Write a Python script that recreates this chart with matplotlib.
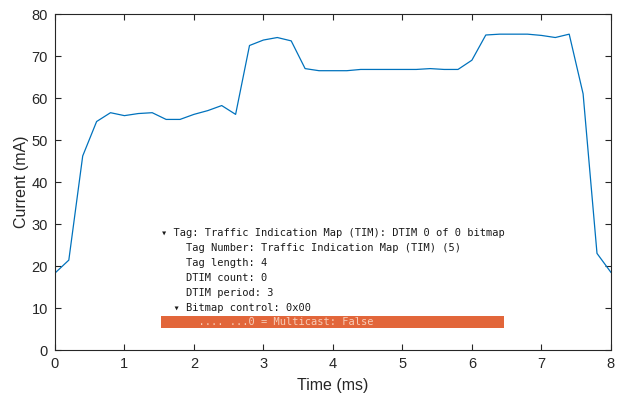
import matplotlib
matplotlib.use("Agg")
import matplotlib.pyplot as plt
from matplotlib.patches import Rectangle

# supply current sampled every 0.2 ms
time_ms = [0.0, 0.2, 0.4, 0.6, 0.8, 1.0, 1.2, 1.4, 1.6, 1.8, 2.0, 2.2, 2.4, 2.6,
           2.8, 3.0, 3.2, 3.4, 3.6, 3.8, 4.0, 4.2, 4.4, 4.6, 4.8, 5.0, 5.2, 5.4,
           5.6, 5.8, 6.0, 6.2, 6.4, 6.6, 6.8, 7.0, 7.2, 7.4, 7.6, 7.8, 8.0]
current_ma = [18.3, 21.4, 46.2, 54.4, 56.5, 55.8, 56.3, 56.5, 54.9, 54.9, 56.1,
              57.0, 58.2, 56.1, 72.5, 73.8, 74.4, 73.6, 67.0, 66.5, 66.5, 66.5,
              66.8, 66.8, 66.8, 66.8, 66.8, 67.0, 66.8, 66.8, 69.0, 75.0, 75.2,
              75.2, 75.2, 74.9, 74.4, 75.2, 61.0, 23.0, 18.5]

x_ticks = [0, 1, 2, 3, 4, 5, 6, 7, 8]
y_ticks = [0, 10, 20, 30, 40, 50, 60, 70, 80]

# beacon frame dissection shown over the trace
tim_lines = [
    "\u25be Tag: Traffic Indication Map (TIM): DTIM 0 of 0 bitmap",
    "    Tag Number: Traffic Indication Map (TIM) (5)",
    "    Tag length: 4",
    "    DTIM count: 0",
    "    DTIM period: 3",
    "  \u25be Bitmap control: 0x00",
]
highlighted = "      .... ...0 = Multicast: False"

plt.rcParams["font.family"] = ["Liberation Sans", "DejaVu Sans"]
ink = "#262626"

fig = plt.figure(figsize=(6.24, 4.0), dpi=100)
ax = fig.add_axes([0.088, 0.125, 0.891, 0.84])

ax.plot(time_ms, current_ma, color="#0072BD", linewidth=0.9)

ax.set_xlim(0, 8)
ax.set_ylim(0, 80)
ax.set_xticks(x_ticks)
ax.set_yticks(y_ticks)
ax.tick_params(direction="in", length=4, width=0.8, colors=ink,
               labelsize=10.5, top=True, right=True, pad=5)
for side in ax.spines.values():
    side.set_color(ink)
    side.set_linewidth(0.8)
ax.set_xlabel("Time (ms)", fontsize=11.5, color=ink, labelpad=5)
ax.set_ylabel("Current (mA)", fontsize=11.5, color=ink, labelpad=2)

mono = dict(family="DejaVu Sans Mono", fontsize=7.5, va="center", ha="left")
y0, step = 27.9, 3.57
for i, line in enumerate(tim_lines):
    ax.text(1.53, y0 - i * step, line, color="#1a1a1a", **mono)

ax.add_patch(Rectangle((1.52, 5.2), 4.94, 2.9, facecolor="#E2663A",
                       edgecolor="none", zorder=3))
ax.text(1.53, 6.6, highlighted, color="#F6CDB8", zorder=4, **mono)

fig.savefig("out.png", dpi=100)
